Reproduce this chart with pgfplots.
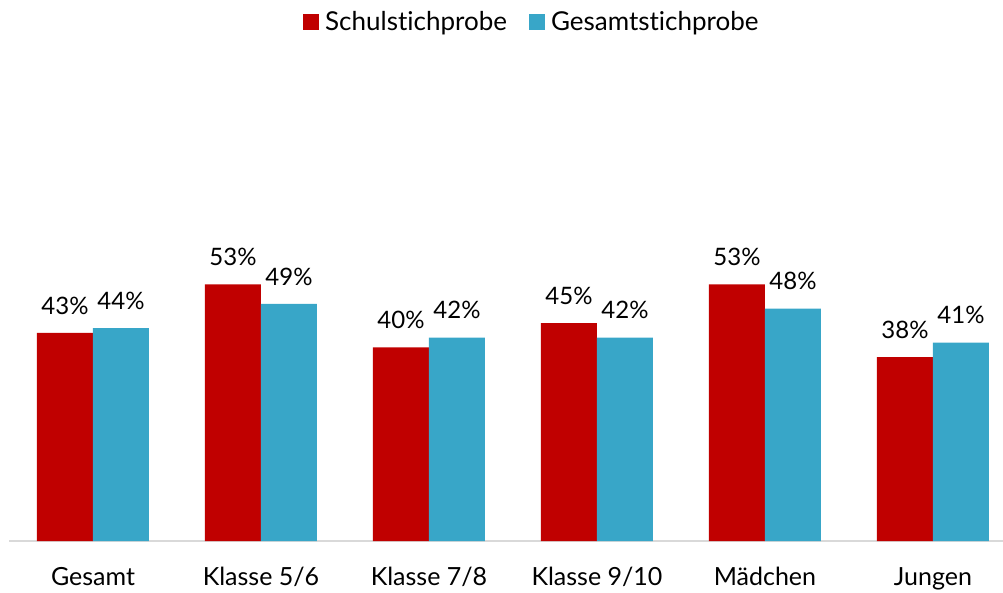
\documentclass[border=0pt]{standalone}
\usepackage{pgfplots}
\pgfplotsset{compat=1.18}
\usepackage{fontspec}
\setmainfont{Lato}[Ligatures=NoCommon]
\definecolor{cred}{HTML}{C00000}
\definecolor{cblue}{HTML}{38A6C8}
\definecolor{cgrid}{HTML}{D9D9D9}
\begin{document}
\begin{tikzpicture}
\useasboundingbox (-9pt,-51pt) rectangle (994pt,541pt);
\begin{axis}[
  at={(0,0)}, anchor=south west,
  scale only axis,
  width=994pt, height=484pt,
  xmin=-0.5, xmax=5.417,
  ymin=0, ymax=100,
  ybar=0pt, bar width=56pt,
  axis x line*=bottom,
  axis y line=none,
  x axis line style={draw=cgrid, line width=1.5pt, -},
  xtick=data,
  xticklabels={Gesamt, Klasse 5/6, Klasse 7/8, Klasse 9/10, Mädchen, Jungen},
  major tick length=0pt,
  /pgf/number format/assume math mode=true,
  xticklabel style={font=\fontsize{25}{29}\selectfont, yshift=-23pt},
  nodes near coords={\pgfmathprintnumber{\pgfplotspointmeta}\%},
  every node near coord/.append style={font=\fontsize{24}{28}\selectfont, yshift=15pt},
  legend style={at={(0.526,1.072)}, anchor=center, draw=none, legend columns=2,
    font=\fontsize{26}{30}\selectfont,
    /tikz/every even column/.append style={column sep=20pt},
    /tikz/every odd column/.append style={column sep=4pt}},
  legend image code/.code={\fill[#1] (0pt,-8pt) rectangle (16pt,8pt);},
]
\addplot[fill=cred, draw=none] coordinates {(0,43) (1,53) (2,40) (3,45) (4,53) (5,38)};
\addplot[fill=cblue, draw=none] coordinates {(0,44) (1,49) (2,42) (3,42) (4,48) (5,41)};
\legend{Schulstichprobe, Gesamtstichprobe}
\end{axis}
\end{tikzpicture}
\end{document}
